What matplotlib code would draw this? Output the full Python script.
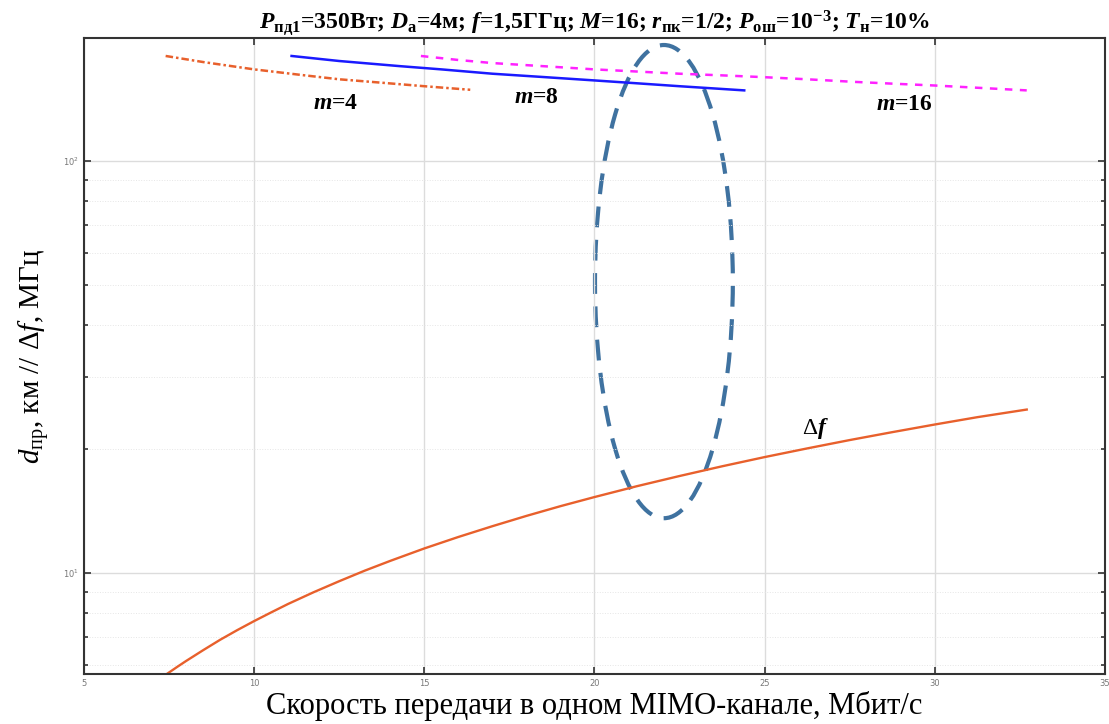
import numpy as np
import matplotlib
matplotlib.use('Agg')
import matplotlib.pyplot as plt
from matplotlib.patches import Ellipse
from matplotlib.ticker import FixedLocator, LogLocator, NullFormatter

plt.rcParams['mathtext.fontset'] = 'custom'
plt.rcParams['mathtext.rm'] = 'Liberation Serif'
plt.rcParams['mathtext.it'] = 'Liberation Serif:italic'
plt.rcParams['mathtext.bf'] = 'Liberation Serif:bold'
plt.rcParams['mathtext.bfit'] = 'Liberation Serif:bold:italic'

# data
rate_m4 = [7.4, 8.5, 10.0, 11.35, 12.5, 13.75, 15.0, 16.35]
d_m4 = [180, 174, 167, 162, 158, 155, 152, 149]

rate_m8 = [11.1, 12.5, 14.3, 15.5, 17.0, 18.5, 20.0, 21.25, 22.5, 24.4]
d_m8 = [180, 175, 170, 167, 163, 160, 157, 154.5, 152, 148.5]

rate_m16 = [14.9, 16.0, 17.0, 18.5, 20.0, 21.25, 22.5, 23.75, 24.9, 26.25,
            27.66, 28.75, 30.0, 31.25, 32.7]
d_m16 = [180, 176, 173, 170, 167, 165, 163, 161.5, 160, 158,
         155.7, 154.2, 152.6, 150.7, 148.5]

rate_df = [7.46, 7.75, 8.0, 8.5, 9.0, 9.5, 10.0, 10.5, 11.0, 11.75, 12.5, 13.25,
           14.0, 15.0, 16.0, 17.0, 18.0, 19.0, 20.0, 21.25, 22.5, 23.75, 25.0,
           26.25, 27.5, 28.75, 30.0, 31.25, 32.7]
df = [5.71, 5.93, 6.12, 6.50, 6.89, 7.27, 7.65, 8.03, 8.42, 8.99, 9.56, 10.14,
      10.71, 11.48, 12.24, 13.0, 13.77, 14.54, 15.3, 16.26, 17.21, 18.17, 19.13,
      20.08, 21.04, 21.99, 22.95, 23.91, 24.95]

labels = ['$\\mathbfit{m}$=4', '$\\mathbfit{m}$=8', '$\\mathbfit{m}$=16']
label_x = [12.4, 18.3, 29.1]
label_y = [138, 143, 137]

fig = plt.figure(figsize=(11.09, 7.24), dpi=100)
ax = fig.add_axes([0.0757, 0.069, 0.9207, 0.8785])

ax.plot(rate_df, df, color='#e8602c', lw=1.7)
ax.plot(rate_m4, d_m4, color='#e8602c', lw=1.8, ls=(0, (3, 1.2, 1, 1.2)))
ax.plot(rate_m8, d_m8, color='#1a1aff', lw=1.8)
ax.plot(rate_m16, d_m16, color='#ff22ff', lw=1.8, ls=(0, (3, 3)))

ax.set_yscale('log')
ax.set_xlim(5, 35)
ax.set_ylim(5.69, 199)
ax.xaxis.set_major_locator(FixedLocator([5, 10, 15, 20, 25, 30, 35]))
ax.yaxis.set_major_locator(LogLocator(base=10))
ax.yaxis.set_minor_locator(LogLocator(base=10, subs=np.arange(2, 10)))
ax.yaxis.set_minor_formatter(NullFormatter())

ax.grid(True, which='major', color='#dcdcdc', lw=1.0)
ax.grid(True, which='minor', axis='y', color='#e6e6e6', lw=0.7, ls=':')
ax.tick_params(which='both', direction='in', top=True, right=True, color='#333333',
               labelsize=6, labelcolor='#777777', width=1.2)
ax.tick_params(which='major', length=5)
ax.tick_params(which='minor', length=3)
for s in ax.spines.values():
    s.set_color('#333333')
    s.set_linewidth(1.5)

for t, x, y in zip(labels, label_x, label_y):
    ax.text(x, y, t, fontsize=17, fontweight='bold', family='Liberation Serif',
            ha='center', va='center')
ax.text(26.5, 22.5, '$\\Delta\\mathbfit{f}$', fontsize=17, ha='center', va='center')

ell = Ellipse((0.568, 0.617), 0.135, 0.744, transform=ax.transAxes, fill=False,
              edgecolor='#3f72a0', lw=3.0, ls=(0, (5, 3)))
ax.add_patch(ell)

ax.set_xlabel('Скорость передачи в одном MIMO-канале, Мбит/с',
              family='Liberation Serif', fontsize=22, labelpad=2)
ax.set_ylabel('$\\mathit{d}_{\\mathrm{пр}}$, км // Δ$\\mathit{f}$, МГц',
              family='Liberation Serif', fontsize=21, labelpad=8)
ax.set_title('$\\mathbfit{P}_{\\mathbf{пд1}}$=350Вт; $\\mathbfit{D}_{\\mathbf{а}}$=4м; '
             '$\\mathbfit{f}$=1,5ГГц; $\\mathbfit{M}$=16; $\\mathbfit{r}_{\\mathbf{пк}}$=1/2; '
             '$\\mathbfit{P}_{\\mathbf{ош}}$=10$^{\\mathbf{-3}}$; $\\mathbfit{T}_{\\mathbf{н}}$=10%',
             family='Liberation Serif', fontweight='bold', fontsize=17, pad=4)

fig.savefig('out.png', dpi=100)
